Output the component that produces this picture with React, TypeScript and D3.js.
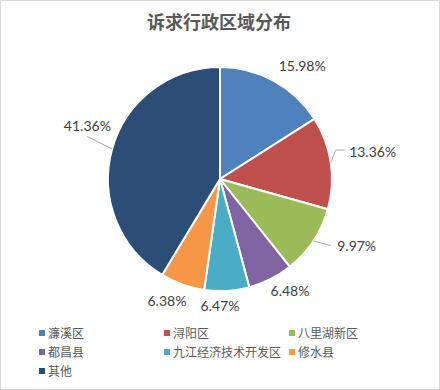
import React from "react";
import * as d3 from "d3";

const categories = ["濂溪区", "浔阳区", "八里湖新区", "都昌县", "九江经济技术开发区", "修水县", "其他"];
const values = [15.98, 13.36, 9.97, 6.48, 6.47, 6.38, 41.36];
const colors = ["#4F81BD", "#C0504D", "#9BBB59", "#8064A2", "#4BACC6", "#F79646", "#2C4D75"];
const title = "诉求行政区域分布";

const W = 440, H = 390;
const cx = 220, cy = 179, R = 112;
// label layout: angle nudge (deg) and distance from center
const labelNudge = [7.2, -1.6, -7.6, -5.2, 3.5, 3.9, 6.4];
const labelDist = [140, 155, 152, 132, 127, 133, 143];
const leaderIdx = [1, 2, 6];

export default function App() {
  const pie = d3.pie<number>().sort(null).value(d => d);
  const arcs = pie(values);
  const arc = d3.arc<d3.PieArcDatum<number>>().innerRadius(0).outerRadius(R);
  const labelFont = "Lato, 'Open Sans', sans-serif";
  const cjk = "'Noto Sans CJK SC', sans-serif";

  const pt = (angRad: number, r: number) => [cx + r * Math.sin(angRad), cy - r * Math.cos(angRad)];

  const colX = [39, 164, 289];
  const rowY = [333, 352, 371];

  return (
    <svg width={W} height={H} style={{ position: "absolute", left: 0, top: 0, background: "#fff" }}>
      <rect x={0.5} y={0.5} width={W - 1} height={H - 1} fill="#fff" stroke="#D9D9D9" />
      <text x={219} y={29} textAnchor="middle" fontFamily={cjk} fontSize={18} fontWeight={700} fill="#595959">{title}</text>
      <g transform={`translate(${cx},${cy})`}>
        {arcs.map((a, i) => (
          <path key={i} d={arc(a) || ""} fill={colors[i]} stroke="#fff" strokeWidth={2} strokeLinejoin="round" />
        ))}
      </g>
      {arcs.map((a, i) => {
        const mid = (a.startAngle + a.endAngle) / 2;
        const la = mid + (labelNudge[i] * Math.PI) / 180;
        const [lx, ly] = pt(la, labelDist[i]);
        const txt = d3.format(".2f")(values[i]) + "%";
        let leader = null;
        if (leaderIdx.includes(i)) {
          const [ex, ey] = pt(mid, R);
          let d = "";
          if (i === 1) d = `M${ex},${ey}L${ex + 5},${ly - 2}L${lx - 28},${ly - 2}`;
          else if (i === 2) d = `M${ex},${ey}L${lx - 26},${ly}`;
          else d = `M${ex},${ey}L${lx},${ly + 11}`;
          leader = <path d={d} fill="none" stroke="#A6A6A6" strokeWidth={1} />;
        }
        return (
          <g key={i}>
            {leader}
            <text x={lx} y={ly + 5} textAnchor="middle" fontFamily={labelFont} fontSize={14} fill="#404040">{txt}</text>
          </g>
        );
      })}
      {categories.map((c, i) => {
        const x = colX[i % 3], y = rowY[Math.floor(i / 3)];
        return (
          <g key={c}>
            <rect x={x} y={y - 3} width={6} height={6} fill={colors[i]} />
            <text x={x + 9} y={y + 4.5} fontFamily={cjk} fontSize={12} fill="#595959">{c}</text>
          </g>
        );
      })}
    </svg>
  );
}
